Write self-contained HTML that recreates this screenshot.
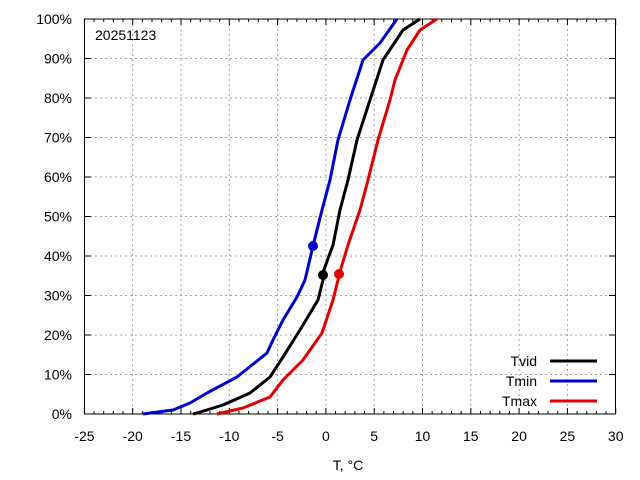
<!DOCTYPE html>
<html><head><meta charset="utf-8"><style>
html,body{margin:0;padding:0;background:#fff;}
svg{display:block;font-family:"Liberation Sans",Arial,sans-serif;}
</style></head><body>
<svg width="640" height="480" viewBox="0 0 640 480" xmlns="http://www.w3.org/2000/svg">
<rect width="640" height="480" fill="#fff"/>
<g stroke="#a0a0a0" stroke-width="1" stroke-dasharray="2,3" fill="none">
<path d="M132.7 19V414M181 19V414M229.3 19V414M277.6 19V414M325.9 19V414M374.2 19V414M422.5 19V414M470.8 19V414M519.1 19V414M567.4 19V414"/>
<path d="M85 374.5H615M85 335H615M85 295.5H615M85 256H615M85 216.5H615M85 177H615M85 137.5H615M85 98H615M85 58.5H615"/>
</g>
<g stroke="#000" stroke-width="1" fill="none">
<rect x="84.5" y="19" width="531" height="395"/>
<path id="tk" d=""/>
</g>
<g stroke="#000" stroke-width="1" id="ticks"></g>
<g font-size="14" fill="#000" text-anchor="end">
<text x="72" y="419">0%</text><text x="72" y="379.5">10%</text><text x="72" y="340">20%</text><text x="72" y="300.5">30%</text><text x="72" y="261">40%</text><text x="72" y="221.5">50%</text><text x="72" y="182">60%</text><text x="72" y="142.5">70%</text><text x="72" y="103">80%</text><text x="72" y="63.5">90%</text><text x="72" y="24">100%</text>
</g>
<g font-size="14" fill="#000" text-anchor="middle">
<text x="84.4" y="441">-25</text><text x="132.7" y="441">-20</text><text x="181" y="441">-15</text><text x="229.3" y="441">-10</text><text x="277.6" y="441">-5</text><text x="325.9" y="441">0</text><text x="374.2" y="441">5</text><text x="422.5" y="441">10</text><text x="470.8" y="441">15</text><text x="519.1" y="441">20</text><text x="567.4" y="441">25</text><text x="615.7" y="441">30</text>
<text x="348" y="470">T, °C</text>
</g>
<text x="95" y="40" font-size="14">20251123</text>
<g fill="none" stroke-width="3" stroke-linejoin="round">
<polyline stroke="#0000cc" points="143,414 173,410 190,403 207,393 237,377 267,353 273,340 283,320 297,297 305,280 313,246 322,210 330,180 338,140 350,100 363,60 380,43 397,19"/>
<polyline stroke="#000" points="193,414 197,413 223,405 250,393 270,377 283,357 300,330 318,300 323,280 322,275 333,245 340,210 348,180 357,140 370,100 383,60 403,30 420,19"/>
<polyline stroke="#e00000" points="217,414 243,408 270,397 283,380 303,360 322,333 333,300 338,280 339,275 348,245 360,210 368,180 378,140 390,100 395,80 407,50 420,30 437,19"/>
</g>
<circle cx="313" cy="246" r="5" fill="#0000cc"/>
<circle cx="323" cy="275" r="5" fill="#000"/>
<circle cx="339" cy="274" r="5" fill="#e00000"/>
<g font-size="14" text-anchor="end"><text x="537" y="366">Tvid</text><text x="537" y="386">Tmin</text><text x="537" y="406">Tmax</text></g>
<g stroke-width="3"><path d="M550 361H597" stroke="#000"/><path d="M550 381H597" stroke="#0000cc"/><path d="M550 401H597" stroke="#e00000"/></g>
<script>
var g=document.getElementById('ticks'),d='';
for(var v=-25;v<=30;v++){var x=84.4+(v+25)*9.66;var L=(v%5==0)?6:3;d+='M'+x+' 414v-'+L+'M'+x+' 19v'+L;}
for(var i=0;i<=10;i++){var y=414-i*39.5;d+='M85 '+y+'h6M615 '+y+'h-6';}
var p=document.createElementNS('http://www.w3.org/2000/svg','path');p.setAttribute('d',d);p.setAttribute('fill','none');g.appendChild(p);
</script>
</svg>
</body></html>
